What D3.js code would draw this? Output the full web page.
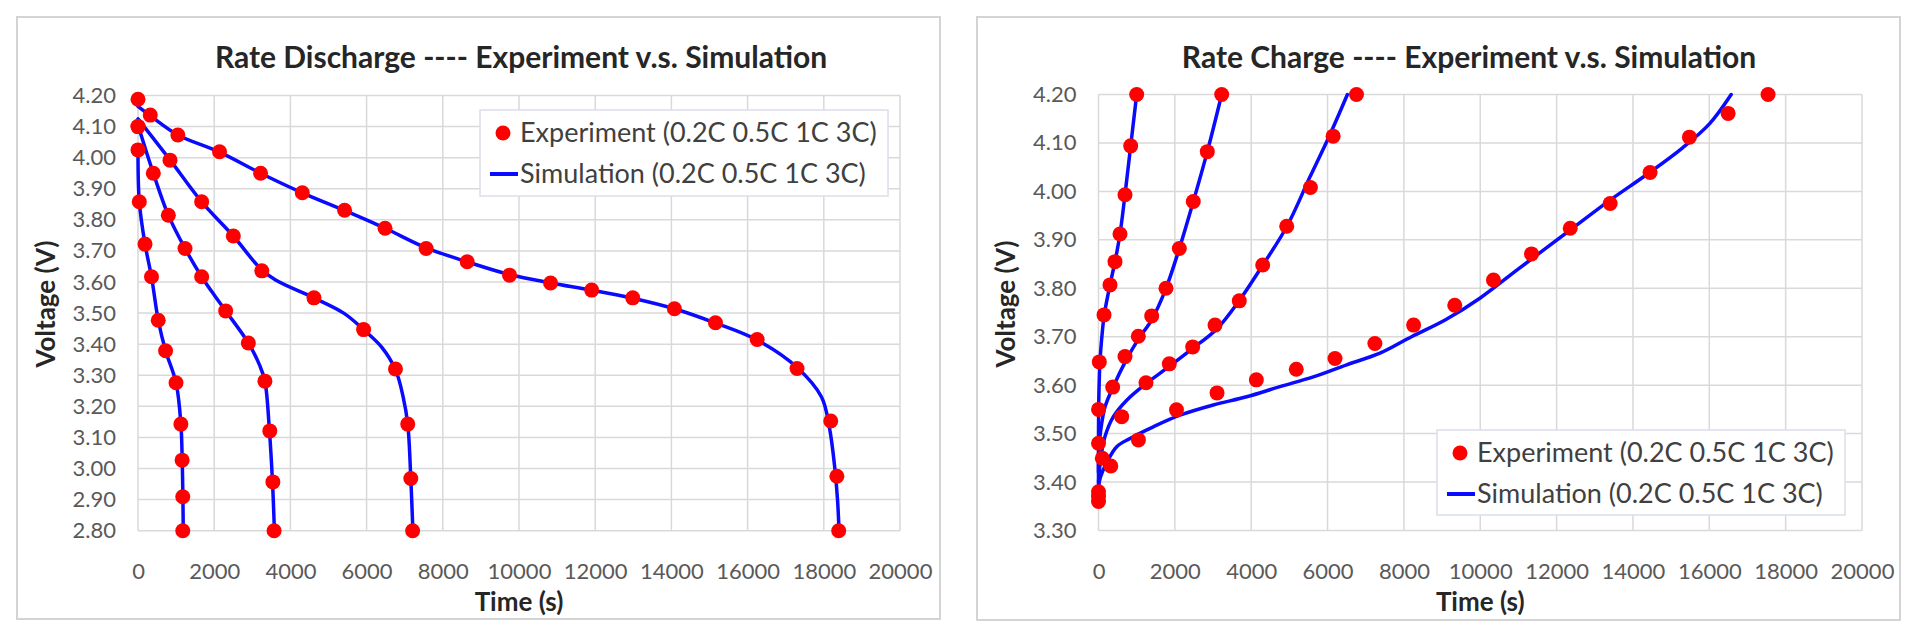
<!DOCTYPE html>
<html>
<head>
<meta charset="utf-8">
<script src="https://cdn.jsdelivr.net/npm/d3@7"></script>
<style>
  html, body { margin: 0; padding: 0; background: #ffffff; }
  svg { display: block; }
  text { font-family: Lato, "Open Sans", "Liberation Sans", sans-serif; }
</style>
</head>
<body>
<svg id="chart" width="1924" height="635"></svg>
<script>
// ---------------- DATA ----------------
const timeTicks = [0, 2000, 4000, 6000, 8000, 10000, 12000, 14000, 16000, 18000, 20000];
const dischargeVoltTicks = [2.8, 2.9, 3.0, 3.1, 3.2, 3.3, 3.4, 3.5, 3.6, 3.7, 3.8, 3.9, 4.0, 4.1, 4.2];
const chargeVoltTicks = [3.3, 3.4, 3.5, 3.6, 3.7, 3.8, 3.9, 4.0, 4.1, 4.2];

const dischargeTitle = "Rate Discharge ---- Experiment v.s. Simulation";
const chargeTitle = "Rate Charge ---- Experiment v.s. Simulation";
const xAxisTitle = "Time (s)";
const yAxisTitle = "Voltage (V)";
const legendLabels = ["Experiment (0.2C 0.5C 1C 3C)", "Simulation (0.2C 0.5C 1C 3C)"];

// Discharge experiment [time s, voltage V]
const dis02Exp = [[0,4.188],[322,4.137],[1046,4.073],[2140,4.019],[3218,3.950],[4312,3.887],[5422,3.831],[6484,3.773],[7562,3.708],[8640,3.665],[9752,3.622],[10829,3.597],[11907,3.574],[12985,3.549],[14079,3.514],[15157,3.469],[16251,3.415],[17297,3.322],[18182,3.153],[18343,2.975],[18391,2.80]];
const dis05Exp = [[0,4.10],[840,3.992],[1671,3.858],[2502,3.748],[3250,3.636],[4618,3.549],[5921,3.447],[6758,3.320],[7080,3.143],[7160,2.968],[7208,2.80]];
const dis1Exp  = [[0,4.10],[402,3.950],[796,3.815],[1234,3.708],[1671,3.617],[2301,3.507],[2896,3.404],[3331,3.281],[3459,3.121],[3540,2.957],[3572,2.80]];
const dis3Exp  = [[0,4.025],[34,3.858],[184,3.722],[354,3.617],[531,3.477],[724,3.379],[998,3.276],[1126,3.143],[1158,3.027],[1175,2.909],[1175,2.80]];

// Discharge simulation
const dis02Sim = [[0,4.165],[322,4.135],[1046,4.073],[2140,4.018],[3218,3.950],[4312,3.887],[5422,3.830],[6484,3.773],[7562,3.710],[8640,3.665],[9752,3.624],[10829,3.597],[11907,3.574],[12985,3.548],[14079,3.514],[15157,3.468],[16251,3.413],[17297,3.325],[17940,3.230],[18150,3.130],[18290,3.000],[18360,2.900],[18400,2.80]];
const dis05Sim = [[0,4.125],[840,3.993],[1671,3.858],[2502,3.748],[3200,3.645],[3600,3.607],[4618,3.549],[5400,3.500],[5921,3.447],[6400,3.390],[6758,3.318],[6960,3.230],[7080,3.143],[7160,2.968],[7215,2.80]];
const dis1Sim  = [[0,4.105],[402,3.950],[796,3.815],[1234,3.708],[1671,3.617],[2000,3.558],[2301,3.507],[2896,3.404],[3200,3.330],[3331,3.281],[3450,3.121],[3530,2.957],[3580,2.80]];
const dis3Sim  = [[0,4.02],[34,3.858],[184,3.722],[354,3.617],[531,3.477],[724,3.379],[998,3.276],[1126,3.143],[1160,3.027],[1178,2.909],[1188,2.80]];

// Charge experiment
const chg02Exp = [[0,3.36],[322,3.433],[1046,3.487],[2043,3.549],[3105,3.584],[4135,3.611],[5181,3.633],[6195,3.655],[7240,3.686],[8254,3.724],[9332,3.765],[10346,3.817],[11343,3.871],[12357,3.924],[13403,3.975],[14449,4.039],[15479,4.112],[16493,4.161],[17539,4.20]];
const chg05Exp = [[0,3.38],[100,3.449],[607,3.535],[1244,3.605],[1855,3.644],[2467,3.679],[3052,3.724],[3688,3.774],[4301,3.848],[4930,3.928],[5551,4.008],[6146,4.114],[6758,4.20]];
const chg1Exp  = [[0,3.48],[372,3.596],[694,3.659],[1043,3.701],[1393,3.743],[1768,3.800],[2117,3.882],[2483,3.979],[2850,4.082],[3227,4.20]];
const chg3Exp  = [[0,3.37],[0,3.55],[21,3.648],[144,3.745],[301,3.807],[432,3.855],[563,3.912],[694,3.993],[843,4.094],[1000,4.20]];

// Charge simulation
const chg02Sim = [[0,3.39],[50,3.41],[215,3.44],[477,3.473],[825,3.49],[1435,3.514],[2135,3.538],[3007,3.559],[3881,3.576],[4754,3.597],[5627,3.617],[6500,3.642],[7373,3.666],[8200,3.700],[9091,3.735],[10000,3.780],[11000,3.840],[12470,3.927],[13400,3.982],[14400,4.037],[15300,4.090],[16010,4.140],[16573,4.20]];
const chg05Sim = [[0,3.40],[60,3.45],[170,3.494],[390,3.535],[740,3.569],[1260,3.604],[1790,3.635],[2400,3.672],[3100,3.716],[3700,3.776],[4280,3.845],[4930,3.927],[5540,4.030],[6050,4.115],[6520,4.20]];
const chg1Sim  = [[0,3.42],[10,3.47],[58,3.507],[170,3.555],[388,3.597],[700,3.648],[1043,3.695],[1393,3.735],[1768,3.800],[2117,3.882],[2483,3.979],[2850,4.082],[3227,4.20]];
const chg3Sim  = [[0,3.39],[0,3.50],[10,3.58],[40,3.65],[100,3.71],[150,3.745],[301,3.807],[432,3.855],[563,3.912],[694,3.993],[843,4.094],[1000,4.20]];

// ---------------- LAYOUT ----------------
const svg = d3.select("#chart");
const BLUE = "#0a0aff", RED = "#ff0000";
const TICK_COLOR = "#595959", TITLE_COLOR = "#262626";

const panels = [
  {
    box: {x0: 17, y0: 17, x1: 940, y1: 619},
    plot: {x0: 138, y0: 95.5, x1: 900, y1: 530.7},
    yDomain: [2.8, 4.2], yTicks: dischargeVoltTicks,
    title: dischargeTitle, titleX: 521,
    yTitleX: 46,
    exp: [dis02Exp, dis05Exp, dis1Exp, dis3Exp],
    sim: [dis02Sim, dis05Sim, dis1Sim, dis3Sim],
    legend: {x0: 480, y0: 110, x1: 888, y1: 196}
  },
  {
    box: {x0: 977, y0: 17, x1: 1900, y1: 620},
    plot: {x0: 1098.5, y0: 94.5, x1: 1862, y1: 530.5},
    yDomain: [3.3, 4.2], yTicks: chargeVoltTicks,
    title: chargeTitle, titleX: 1469,
    yTitleX: 1006,
    exp: [chg02Exp, chg05Exp, chg1Exp, chg3Exp],
    sim: [chg02Sim, chg05Sim, chg1Sim, chg3Sim],
    legend: {x0: 1437, y0: 430, x1: 1845, y1: 515}
  }
];

panels.forEach(p => {
  const g = svg.append("g");
  // chart border
  g.append("rect")
    .attr("x", p.box.x0).attr("y", p.box.y0)
    .attr("width", p.box.x1 - p.box.x0).attr("height", p.box.y1 - p.box.y0)
    .attr("fill", "#ffffff").attr("stroke", "#d4d4d4").attr("stroke-width", 2);

  const x = d3.scaleLinear().domain([0, 20000]).range([p.plot.x0, p.plot.x1]);
  const y = d3.scaleLinear().domain(p.yDomain).range([p.plot.y1, p.plot.y0]);

  // gridlines
  g.append("g").selectAll("line.v").data(timeTicks).join("line")
    .attr("x1", d => x(d)).attr("x2", d => x(d))
    .attr("y1", p.plot.y0).attr("y2", p.plot.y1)
    .attr("stroke", "#d9d9d9").attr("stroke-width", 1.5);
  g.append("g").selectAll("line.h").data(p.yTicks).join("line")
    .attr("x1", p.plot.x0).attr("x2", p.plot.x1)
    .attr("y1", d => y(d)).attr("y2", d => y(d))
    .attr("stroke", "#d9d9d9").attr("stroke-width", 1.5);

  // axes (labels only)
  const xAxis = g.append("g")
    .attr("transform", `translate(0,${p.plot.y1 + 41})`)
    .call(d3.axisBottom(x).tickValues(timeTicks).tickSize(0).tickPadding(0).tickFormat(d3.format("d")));
  const yAxis = g.append("g")
    .attr("transform", `translate(${p.plot.x0 - 22},0)`)
    .call(d3.axisLeft(y).tickValues(p.yTicks).tickSize(0).tickPadding(0).tickFormat(d3.format(".2f")));
  [xAxis, yAxis].forEach(a => {
    a.select(".domain").remove();
    a.selectAll("text")
      .attr("font-family", "Lato, sans-serif")
      .attr("font-size", 22)
      .attr("fill", TICK_COLOR);
  });
  xAxis.selectAll("text").attr("dy", "0.35em");

  // titles
  g.append("text").text(p.title)
    .attr("x", p.titleX).attr("y", 68)
    .attr("text-anchor", "middle")
    .attr("font-size", 30).attr("font-weight", "bold")
    .attr("fill", TITLE_COLOR);
  g.append("text").text(xAxisTitle)
    .attr("x", (p.plot.x0 + p.plot.x1) / 2).attr("y", 611)
    .attr("text-anchor", "middle")
    .attr("font-size", 26).attr("font-weight", "bold")
    .attr("fill", TITLE_COLOR);
  g.append("text").text(yAxisTitle)
    .attr("transform", `translate(${p.yTitleX + 9},304) rotate(-90)`)
    .attr("text-anchor", "middle")
    .attr("font-size", 26).attr("font-weight", "bold")
    .attr("fill", TITLE_COLOR);

  // simulation lines
  const line = d3.line().x(d => x(d[0])).y(d => y(d[1])).curve(d3.curveCatmullRom.alpha(0.5));
  g.append("g").selectAll("path").data(p.sim).join("path")
    .attr("d", line)
    .attr("fill", "none").attr("stroke", BLUE).attr("stroke-width", 3.5)
    .attr("stroke-linejoin", "round").attr("stroke-linecap", "round");

  // experiment dots
  g.append("g").selectAll("g").data(p.exp).join("g")
    .selectAll("circle").data(d => d).join("circle")
    .attr("cx", d => x(d[0])).attr("cy", d => y(d[1])).attr("r", 7.5)
    .attr("fill", RED);

  // legend
  const L = p.legend;
  const lg = g.append("g");
  lg.append("rect")
    .attr("x", L.x0).attr("y", L.y0).attr("width", L.x1 - L.x0).attr("height", L.y1 - L.y0)
    .attr("fill", "#ffffff").attr("stroke", "#dadfe8").attr("stroke-width", 1.5);
  const row1 = L.y0 + 23, row2 = L.y0 + 64;
  lg.append("circle").attr("cx", L.x0 + 23).attr("cy", row1).attr("r", 7.5).attr("fill", RED);
  lg.append("line")
    .attr("x1", L.x0 + 10).attr("x2", L.x0 + 38).attr("y1", row2).attr("y2", row2)
    .attr("stroke", BLUE).attr("stroke-width", 4);
  [row1, row2].forEach((ry, i) => {
    lg.append("text").text(legendLabels[i])
      .attr("x", L.x0 + 40).attr("y", ry).attr("dy", "0.35em")
      .attr("font-size", 27).attr("fill", "#404040");
  });
});
</script>
</body>
</html>
